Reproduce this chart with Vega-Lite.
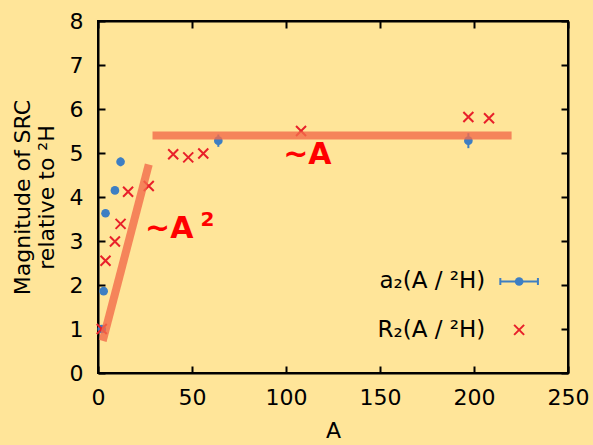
{
  "$schema": "https://vega.github.io/schema/vega-lite/v6.json",
  "width": 470,
  "height": 352,
  "autosize": {"type": "none"},
  "padding": {"left": 98, "top": 21, "right": 25, "bottom": 72},
  "background": "#FFE599",
  "config": {
    "view": {"stroke": "black", "strokeWidth": 2},
    "font": "DejaVu Sans",
    "axis": {
      "grid": false,
      "labelFlush": false,
      "domainColor": "black",
      "domainWidth": 2,
      "tickColor": "black",
      "tickWidth": 2,
      "tickSize": -7,
      "labelFont": "DejaVu Sans",
      "labelFontSize": 22,
      "labelColor": "black",
      "titleFont": "DejaVu Sans",
      "titleFontSize": 22,
      "titleFontWeight": "normal",
      "titleColor": "black"
    }
  },
  "datasets": {
    "a2": [
      {"A": 2, "v": 1.0, "lo": 0.98, "hi": 1.02},
      {"A": 3, "v": 1.86, "lo": 1.82, "hi": 1.9},
      {"A": 4, "v": 3.63, "lo": 3.59, "hi": 3.67},
      {"A": 9, "v": 4.15, "lo": 4.11, "hi": 4.19},
      {"A": 12, "v": 4.8, "lo": 4.7, "hi": 4.9},
      {"A": 64, "v": 5.28, "lo": 5.14, "hi": 5.42},
      {"A": 197, "v": 5.28, "lo": 5.11, "hi": 5.45}
    ],
    "r2": [
      {"A": 2, "v": 1.0},
      {"A": 4, "v": 2.55},
      {"A": 9, "v": 2.99},
      {"A": 12, "v": 3.39},
      {"A": 16, "v": 4.12},
      {"A": 27, "v": 4.25},
      {"A": 40, "v": 4.97},
      {"A": 48, "v": 4.9},
      {"A": 56, "v": 4.99},
      {"A": 108, "v": 5.5},
      {"A": 197, "v": 5.82},
      {"A": 208, "v": 5.79}
    ],
    "bands": [
      {"band": "A2", "A": 2.5, "v": 0.73},
      {"band": "A2", "A": 27, "v": 4.74},
      {"band": "A", "A": 29, "v": 5.4},
      {"band": "A", "A": 220, "v": 5.4}
    ],
    "notes": [
      {"A": 98.5, "v": 4.74, "label": "~A"},
      {"A": 25, "v": 3.06, "label": "~A"}
    ],
    "sup": [
      {"A": 54.5, "v": 3.33, "label": "2"}
    ],
    "legtext": [
      {"A": 206, "v": 2.08, "label": "a₂(A / ²H)"},
      {"A": 206, "v": 0.98, "label": "R₂(A / ²H)"}
    ],
    "legbar": [
      {"A": 214, "A2": 234, "v": 2.08}
    ],
    "legcap": [
      {"A": 214, "v": 2.08},
      {"A": 234, "v": 2.08}
    ],
    "legpt": [
      {"A": 224, "v": 2.08}
    ],
    "legx": [
      {"A": 224, "v": 0.98}
    ]
  },
  "resolve": {"axis": {"x": "independent", "y": "independent"}},
  "layer": [
    {
      "encoding": {
        "x": {"field": "A", "type": "quantitative", "scale": {"domain": [0, 250], "nice": false},
              "axis": {"values": [0, 50, 100, 150, 200, 250], "labelPadding": 21, "title": "A", "titlePadding": 12}},
        "y": {"field": "v", "type": "quantitative", "scale": {"domain": [0, 8], "nice": false},
              "axis": {"values": [0, 1, 2, 3, 4, 5, 6, 7, 8], "labelPadding": 22,
                       "title": ["Magnitude of SRC", "relative to ²H"], "titlePadding": 11, "titleLineHeight": 24}}
      },
      "layer": [
        {
          "data": {"name": "a2"},
          "mark": {"type": "rule", "color": "#3D7EC3", "strokeWidth": 2},
          "encoding": {"y": {"field": "lo", "type": "quantitative"}, "y2": {"field": "hi"}}
        },
        {
          "data": {"name": "a2"},
          "mark": {"type": "point", "shape": "circle", "filled": true, "color": "#3D7EC3", "opacity": 1, "size": 75}
        },
        {
          "data": {"name": "r2"},
          "mark": {"type": "point", "shape": "M-1,-1L1,1M-1,1L1,-1", "filled": false, "color": "#E8202A", "opacity": 1, "size": 100, "strokeWidth": 2}
        },
        {
          "data": {"name": "bands"},
          "mark": {"type": "line", "color": "#F26B4A", "opacity": 0.8, "strokeWidth": 8, "strokeCap": "butt"},
          "encoding": {"detail": {"field": "band"}}
        },
        {
          "data": {"name": "notes"},
          "mark": {"type": "text", "align": "left", "baseline": "alphabetic", "font": "DejaVu Sans", "fontWeight": "bold", "fontSize": 30, "color": "#FF0000"},
          "encoding": {"text": {"field": "label"}}
        },
        {
          "data": {"name": "sup"},
          "mark": {"type": "text", "align": "left", "baseline": "alphabetic", "font": "DejaVu Sans", "fontWeight": "bold", "fontSize": 20, "color": "#FF0000"},
          "encoding": {"text": {"field": "label"}}
        },
        {
          "data": {"name": "legtext"},
          "mark": {"type": "text", "align": "right", "baseline": "middle", "font": "DejaVu Sans", "fontSize": 23, "color": "black"},
          "encoding": {"text": {"field": "label"}}
        },
        {
          "data": {"name": "legbar"},
          "mark": {"type": "rule", "color": "#3D7EC3", "strokeWidth": 2},
          "encoding": {"x2": {"field": "A2"}}
        },
        {
          "data": {"name": "legcap"},
          "mark": {"type": "tick", "orient": "vertical", "color": "#3D7EC3", "thickness": 2, "size": 7, "opacity": 1}
        },
        {
          "data": {"name": "legpt"},
          "mark": {"type": "point", "shape": "circle", "filled": true, "color": "#3D7EC3", "opacity": 1, "size": 75}
        },
        {
          "data": {"name": "legx"},
          "mark": {"type": "point", "shape": "M-1,-1L1,1M-1,1L1,-1", "filled": false, "color": "#E8202A", "opacity": 1, "size": 100, "strokeWidth": 2}
        }
      ]
    },
    {
      "data": {"name": "legpt"},
      "mark": {"type": "point", "opacity": 0},
      "encoding": {
        "x": {"field": "A", "type": "quantitative", "scale": {"domain": [0, 250], "nice": false},
              "axis": {"orient": "top", "values": [0, 50, 100, 150, 200, 250], "labels": false, "title": null}},
        "y": {"field": "v", "type": "quantitative", "scale": {"domain": [0, 8], "nice": false},
              "axis": {"orient": "right", "values": [0, 1, 2, 3, 4, 5, 6, 7, 8], "labels": false, "title": null}}
      }
    }
  ]
}
